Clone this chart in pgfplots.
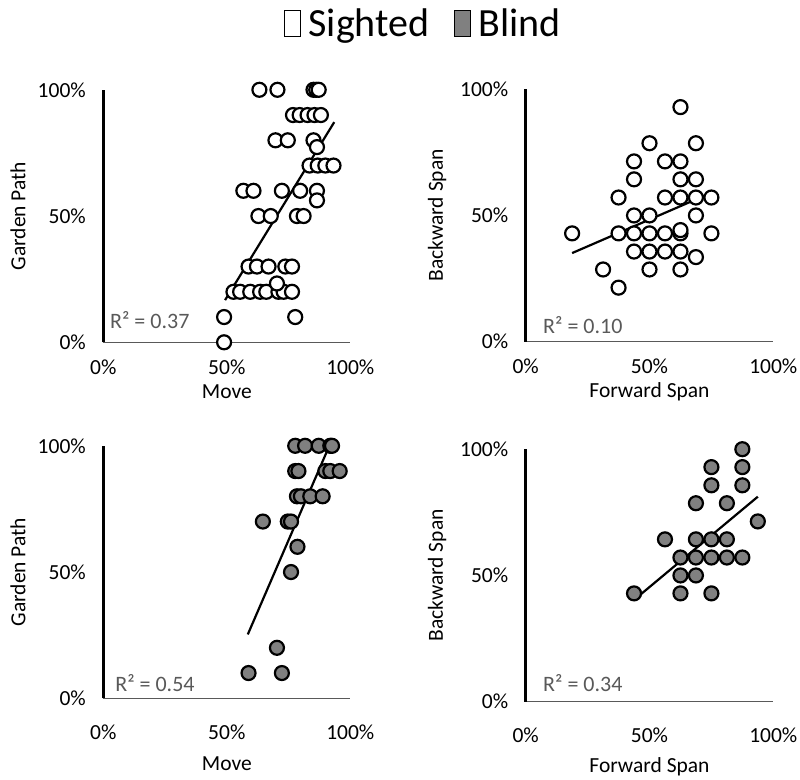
\documentclass[border=0pt]{standalone}
\usepackage{fontspec}
\setmainfont{Carlito}
\usepackage{pgfplots}
\pgfplotsset{compat=1.18}
\definecolor{blindgray}{HTML}{808080}
\definecolor{rgray}{HTML}{595959}
\newcommand\ticfont{\fontsize{21.5}{24}\selectfont}
\newcommand\labfont{\fontsize{21.5}{24}\selectfont}
\newcommand\rfont{\fontsize{22}{25}\selectfont}
\pgfplotsset{
  panel/.style={
    scale only axis, width=247pt, height=252.5pt,
    xmin=0, xmax=100, ymin=0, ymax=100,
    axis lines*=left, clip=false,
    xtick={0,50,100}, ytick={0,50,100},
    xticklabels={0\%,50\%,100\%}, yticklabels={0\%,50\%,100\%},
    major tick length=0pt, tick style={draw=none},
    ticklabel style={font=\ticfont},
    x axis line style={line width=1pt, draw=black!65},
    y axis line style={line width=2.5pt, draw=black},
    yticklabel style={xshift=-14pt},
    label style={font=\labfont},
  },
  toprow/.style={
    xticklabel style={yshift=-14pt},
    xlabel style={at={(axis description cs:0.5,-0.197)}, anchor=center},
  },
  botrow/.style={
    xticklabel style={yshift=-23pt},
    xlabel style={at={(axis description cs:0.5,-0.258)}, anchor=center},
  },
  sighted/.style={only marks, mark=*, mark size=7pt,
    mark options={draw=black, fill=white, line width=2.2pt}, forget plot},
  blind/.style={only marks, mark=*, mark size=7pt,
    mark options={draw=black, fill=blindgray, line width=2.2pt}, forget plot},
  trend/.style={black, line width=2.2pt, no marks, forget plot},
}
\begin{document}
\begin{tikzpicture}
\useasboundingbox (0pt,0pt) rectangle (800pt,779pt);
% Panel 1: Move vs Garden Path, sighted
\begin{axis}[panel, toprow, at={(103.3pt,436.7pt)}, anchor=south west,
  xlabel={Move}, ylabel={Garden Path},
  ylabel style={at={(axis description cs:-0.345,0.5)}, anchor=center},
  legend style={at={(axis description cs:1.295,1.262)}, anchor=center, draw=none, fill=none,
    legend columns=2, font=\fontsize{40}{44}\selectfont, inner sep=0pt,
    /tikz/every even column/.append style={column sep=22pt}},
]
\addlegendimage{legend image code/.code={\draw[black,line width=1.5pt,fill=white] (0pt,-13pt) rectangle (16pt,13pt); \path[draw=none,fill=none] (0pt,0pt) -- (22pt,0pt);}}
\addlegendentry{Sighted}
\addlegendimage{legend image code/.code={\draw[black,line width=1.5pt,fill=blindgray] (0pt,-13pt) rectangle (16pt,13pt); \path[draw=none,fill=none] (0pt,0pt) -- (22pt,0pt);}}
\addlegendentry{Blind}
\addplot[sighted] coordinates {
(63.2,100) (70.5,100) (85.1,100) (86.2,100) (87.2,100)
(76.8,90) (79.5,90) (82.7,90) (85.5,90) (88.1,90)
(69.7,80) (74.7,80) (85.1,80) (86.5,77.3)
(83.5,70) (86.8,70) (89.9,70) (93.2,70)
(56.7,60) (60.8,60) (72.3,60) (79.7,60) (86.5,60) (86.5,56.2)
(62.8,50) (67.8,50) (78.4,50) (81.1,50)
(58.8,30) (62.2,30) (66.9,30) (73.7,30) (76.4,30)
(52.7,20) (55.4,20) (59.5,20) (63.5,20) (66.0,20) (70.9,20) (73.0,20) (76.4,20) (70.3,23.3)
(48.9,10) (77.7,10)
(48.9,0)
};
\addplot[trend] coordinates {(49.3,16.7) (93.5,87.2)};
\node[anchor=west, text=rgray, font=\rfont, inner sep=0pt] at (axis cs:2.7,8.8) {R² = 0.37};
\end{axis}
% Panel 2: Forward vs Backward span, sighted
\begin{axis}[panel, toprow, at={(525.7pt,437.3pt)}, anchor=south west, width=247.6pt,
  xlabel={Forward Span}, ylabel={Backward Span},
  ylabel style={at={(axis description cs:-0.358,0.5)}, anchor=center},
]
\addplot[sighted] coordinates {
(62.5,92.9)
(50,78.6) (68.75,78.6)
(43.75,71.4) (56.25,71.4) (62.5,71.4)
(43.75,64.3) (62.5,64.3) (68.75,64.3)
(37.5,57.1) (56.25,57.1) (62.5,57.1) (68.75,57.1) (75,57.1)
(43.75,50) (50,50) (68.75,50)
(18.75,42.9) (37.5,42.9) (43.75,42.9) (50,42.9) (56.25,42.9) (62.5,42.9) (62.5,44.2) (75,42.9)
(43.75,35.7) (50,35.7) (56.25,35.7) (62.5,35.7) (68.75,33.5)
(31.25,28.6) (50,28.6) (62.5,28.6)
(37.5,21.4)
};
\addplot[trend] coordinates {(18.75,35.1) (75,59.0)};
\node[anchor=west, text=rgray, font=\rfont, inner sep=0pt] at (axis cs:7,6.6) {R² = 0.10};
\end{axis}
% Panel 3: Move vs Garden Path, blind
\begin{axis}[panel, botrow, at={(103.3pt,80.7pt)}, anchor=south west,
  xlabel={Move}, ylabel={Garden Path},
  ylabel style={at={(axis description cs:-0.345,0.5)}, anchor=center},
]
\addplot[blind] coordinates {
(77.7,100) (81.7,100) (87.2,100) (91.9,100) (92.6,100)
(77.7,90) (79.0,90) (89.9,90) (91.9,90) (95.7,90)
(78.4,80) (80.0,80) (83.8,80) (88.8,80)
(64.6,70) (74.7,70) (76.0,70)
(78.6,60)
(76.0,50)
(70.3,20)
(58.8,10) (72.3,10)
};
\addplot[trend] coordinates {(58.5,25.3) (91.2,99.3)};
\node[anchor=west, text=rgray, font=\rfont, inner sep=0pt] at (axis cs:4.8,6) {R² = 0.54};
\end{axis}
% Panel 4: Forward vs Backward span, blind
\begin{axis}[panel, botrow, at={(525.7pt,77.3pt)}, anchor=south west, width=247.6pt,
  xlabel={Forward Span}, ylabel={Backward Span},
  ylabel style={at={(axis description cs:-0.358,0.5)}, anchor=center},
]
\addplot[blind] coordinates {
(87.5,100)
(75,92.9) (87.5,92.9)
(75,85.7) (87.5,85.7)
(68.75,78.6) (81.25,78.6)
(93.75,71.4)
(56.25,64.3) (68.75,64.3) (75,64.3) (81.25,64.3)
(62.5,57.1) (68.75,57.1) (75,57.1) (81.25,57.1) (87.5,57.1)
(62.5,50) (68.75,50)
(43.75,42.9) (62.5,42.9) (75,42.9)
};
\addplot[trend] coordinates {(43.75,40.3) (93.75,81.2)};
\node[anchor=west, text=rgray, font=\rfont, inner sep=0pt] at (axis cs:7,7.4) {R² = 0.34};
\end{axis}
\end{tikzpicture}
\end{document}
